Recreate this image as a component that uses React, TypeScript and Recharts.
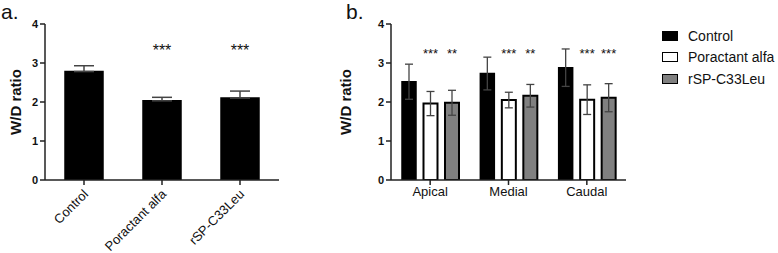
import React from 'react';
import { BarChart, Bar, XAxis, YAxis, ErrorBar, Legend, LabelList } from 'recharts';

const groupsA = ['Control', 'Poractant alfa', 'rSP-C33Leu'];
const meansA = [2.78, 2.03, 2.1];
const sdA = [0.15, 0.09, 0.18];
const starsA = ['', '***', '***'];

const regionsB = ['Apical', 'Medial', 'Caudal'];
const controlB = [2.52, 2.73, 2.88];
const controlSdB = [0.45, 0.42, 0.48];
const poractantB = [1.96, 2.05, 2.06];
const poractantSdB = [0.31, 0.2, 0.38];
const rspB = [1.98, 2.16, 2.11];
const rspSdB = [0.32, 0.29, 0.36];
const poractantStarsB = ['***', '***', '***'];
const rspStarsB = ['**', '**', '***'];

const yTicks = [0, 1, 2, 3, 4];

const FONT = '"Liberation Sans", Arial, Helvetica, sans-serif';
const AXIS = '#222';
const ERR = '#444';

const dataA = groupsA.map((name, i) => ({
  name,
  mean: meansA[i],
  err: [0, sdA[i]],
}));

const dataB = regionsB.map((name, i) => ({
  name,
  control: controlB[i],
  controlErr: controlSdB[i],
  por: poractantB[i],
  porErr: poractantSdB[i],
  rsp: rspB[i],
  rspErr: rspSdB[i],
}));

const starLabel = (stars: string[], starAt: number, fontSize: number) => (props: any) => {
  const vb = props.viewBox && props.viewBox.height !== undefined ? props.viewBox : props;
  const x = Number(vb.x ?? props.x);
  const y = Number(vb.y ?? props.y);
  const width = Number(vb.width ?? props.width);
  const height = Number(vb.height ?? props.height);
  const idx = props.index;
  const value = Number(props.value);
  const s = stars[idx];
  if (!s || !value) return null;
  const base = y + height;
  const perUnit = height / value;
  const ty = base - starAt * perUnit;
  return (
    <text x={x + width / 2} y={ty} textAnchor="middle" fontSize={fontSize} fill="#111" fontFamily={FONT}>
      {s}
    </text>
  );
};

const RotTick = (props: any) => {
  const { x, y, payload } = props;
  const tx = x + 5;
  const ty = y + 8;
  return (
    <text x={tx} y={ty} transform={`rotate(-45 ${tx} ${ty})`} textAnchor="end" fontSize={13} fill="#111" fontFamily={FONT}>
      {payload.value}
    </text>
  );
};

const yLabel = (props: any) => {
  const vb = props.viewBox || {};
  const cx = vb.x + 15;
  const cy = vb.y + vb.height / 2;
  return (
    <text x={cx} y={cy} transform={`rotate(-90 ${cx} ${cy})`} textAnchor="middle" dominantBaseline="central" fontSize={15} fontWeight="bold" fill="#111" fontFamily={FONT}>
      W/D ratio
    </text>
  );
};

const LegendContent = (props: any) => {
  const payload = props.payload || [];
  return (
    <div style={{ fontFamily: FONT }}>
      {payload.map((p: any) => (
        <div key={p.value} style={{ display: 'flex', alignItems: 'center', height: 21.5 }}>
          <div
            style={{
              width: 16,
              height: 10,
              background: p.color,
              border: '1.5px solid #000',
              boxSizing: 'border-box',
              marginRight: 10,
            }}
          />
          <span style={{ fontSize: 14, color: '#111', whiteSpace: 'nowrap' }}>{p.value}</span>
        </div>
      ))}
    </div>
  );
};

const yTickStyle = { fontSize: 11, fontWeight: 'bold', fill: '#111', fontFamily: FONT } as any;

const panelLetter = { position: 'absolute', top: 1, fontSize: 21, lineHeight: '21px', color: '#111', fontFamily: FONT } as any;

export default function App() {
  return (
    <div style={{ position: 'absolute', left: 0, top: 0, width: 778, height: 253, background: '#fff', fontFamily: FONT }}>
      <div style={{ ...panelLetter, left: 1 }}>a.</div>
      <div style={{ ...panelLetter, left: 346 }}>b.</div>

      <div style={{ position: 'absolute', left: 0, top: 0 }}>
        <BarChart width={300} height={253} data={dataA} margin={{ top: 24, right: 21, bottom: 0, left: 0 }}>
          <XAxis
            dataKey="name"
            height={73}
            tick={<RotTick />}
            tickSize={5}
            stroke={AXIS}
            strokeWidth={1.5}
            interval={0}
          />
          <YAxis
            width={45}
            domain={[0, 4]}
            ticks={yTicks}
            tickSize={5}
            stroke={AXIS}
            strokeWidth={1.5}
            tick={yTickStyle}
            label={yLabel}
            allowDataOverflow
          />
          <Bar dataKey="mean" fill="#000" stroke="#000" strokeWidth={1.5} barSize={38} isAnimationActive={false}>
            <ErrorBar dataKey="err" width={10} stroke={ERR} strokeWidth={1.5} direction="y" />
            <LabelList dataKey="mean" content={starLabel(starsA, 3.18, 16)} />
          </Bar>
        </BarChart>
      </div>

      <div style={{ position: 'absolute', left: 330, top: 0 }}>
        <BarChart
          width={448}
          height={253}
          data={dataB}
          margin={{ top: 24, right: 152, bottom: 0, left: 0 }}
          barGap={7.5}
        >
          <XAxis
            dataKey="name"
            height={73}
            tickSize={5}
            stroke={AXIS}
            strokeWidth={1.5}
            tick={{ fontSize: 13, fill: '#111', fontFamily: FONT }}
            interval={0}
          />
          <YAxis
            width={61}
            domain={[0, 4]}
            ticks={yTicks}
            tickSize={5}
            stroke={AXIS}
            strokeWidth={1.5}
            tick={yTickStyle}
            label={yLabel}
            allowDataOverflow
          />
          <Legend
            layout="horizontal"
            verticalAlign="middle"
            align="center"
            content={<LegendContent />}
            wrapperStyle={{ left: 332, top: 25, width: 116, right: 'auto', bottom: 'auto' }}
          />
          <Bar dataKey="control" name="Control" fill="#000" stroke="#000" strokeWidth={1.5} barSize={14} isAnimationActive={false}>
            <ErrorBar dataKey="controlErr" width={4} stroke={ERR} strokeWidth={1.3} direction="y" />
          </Bar>
          <Bar dataKey="por" name="Poractant alfa" fill="#fff" stroke="#000" strokeWidth={2} barSize={14} isAnimationActive={false}>
            <ErrorBar dataKey="porErr" width={4} stroke={ERR} strokeWidth={1.3} direction="y" />
            <LabelList dataKey="por" content={starLabel(poractantStarsB, 3.13, 13)} />
          </Bar>
          <Bar dataKey="rsp" name="rSP-C33Leu" fill="#808080" stroke="#000" strokeWidth={2} barSize={14} isAnimationActive={false}>
            <ErrorBar dataKey="rspErr" width={4} stroke={ERR} strokeWidth={1.3} direction="y" />
            <LabelList dataKey="rsp" content={starLabel(rspStarsB, 3.13, 13)} />
          </Bar>
        </BarChart>
      </div>
    </div>
  );
}
